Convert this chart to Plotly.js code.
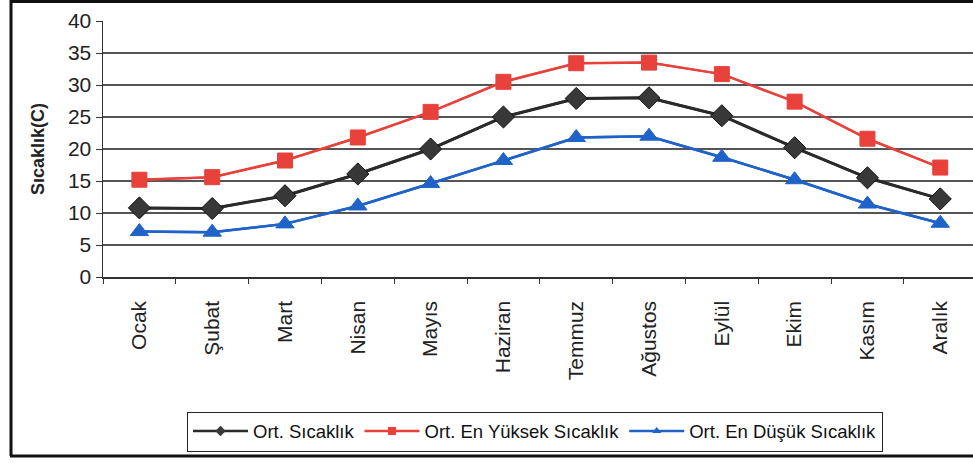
<!DOCTYPE html>
<html>
<head>
<meta charset="utf-8">
<script src="https://cdn.plot.ly/plotly-3.0.1.min.js"></script>
<style>
  html, body { margin: 0; padding: 0; background: #fff; overflow: hidden; }
  #chart { width: 973px; height: 466px; }
</style>
</head>
<body>
<div id="chart"></div>
<script>
const months = ["Ocak", "Şubat", "Mart", "Nisan", "Mayıs", "Haziran", "Temmuz", "Ağustos", "Eylül", "Ekim", "Kasım", "Aralık"];
const ortSicaklik = [10.8, 10.7, 12.7, 16.1, 20.0, 25.0, 27.9, 28.0, 25.2, 20.2, 15.5, 12.2];
const ortEnYuksek = [15.2, 15.6, 18.2, 21.8, 25.8, 30.5, 33.4, 33.5, 31.7, 27.4, 21.6, 17.1];
const ortEnDusuk = [7.1, 7.0, 8.3, 11.1, 14.6, 18.2, 21.8, 22.0, 18.7, 15.2, 11.4, 8.4];
const yTicks = [0, 5, 10, 15, 20, 25, 30, 35, 40];

const seriesNames = ["Ort. Sıcaklık", "Ort. En Yüksek Sıcaklık", "Ort. En Düşük Sıcaklık"];
const seriesData = [ortSicaklik, ortEnYuksek, ortEnDusuk];
const colors = ["#2a2a2a", "#e8413b", "#1f63c8"];
const markerColors = ["#383838", "#e8413b", "#1f63c8"];
const symbols = ["diamond", "square", "triangle-up"];
const sizes = [17, 15, 16];
const widths = [3, 2, 2.5];

const traces = [];
// legend entries (small symbols), drawn underneath the main series
seriesData.forEach((d, i) => {
  traces.push({ x: months, y: d, name: seriesNames[i], type: "scatter", mode: "lines+markers",
    line: { color: colors[i], width: 2.5 },
    marker: { symbol: symbols[i], size: 8, color: markerColors[i] },
    showlegend: true, hoverinfo: "skip" });
});
seriesData.forEach((d, i) => {
  traces.push({ x: months, y: d, name: seriesNames[i], type: "scatter", mode: "lines+markers",
    line: { color: colors[i], width: widths[i] },
    marker: { symbol: symbols[i], size: sizes[i], color: markerColors[i],
              line: { color: i === 0 ? "#111" : markerColors[i], width: 1 } },
    showlegend: false });
});

// outer frame of the figure (paper coordinates relative to the plot area)
const L = 103, T = 21, W = 870, H = 256;
const px = v => (v - L) / W;
const py = v => 1 - (v - T) / H;
const frameLine = { color: "#111", width: 3 };
const shapes = [
  { type: "line", xref: "paper", yref: "paper", x0: px(11), x1: px(11), y0: py(0), y1: py(456), line: frameLine },
  { type: "line", xref: "paper", yref: "paper", x0: px(10), x1: px(990), y0: py(1.5), y1: py(1.5), line: frameLine },
  { type: "line", xref: "paper", yref: "paper", x0: px(10), x1: px(990), y0: py(456), y1: py(456), line: frameLine }
];

const layout = {
  width: 973, height: 466,
  margin: { l: L, r: 0, t: T, b: 466 - T - H },
  paper_bgcolor: "#ffffff", plot_bgcolor: "#ffffff",
  font: { family: "Liberation Sans, Arial, sans-serif", color: "#222" },
  showlegend: true,
  shapes: shapes,
  legend: {
    orientation: "h", x: px(535), xanchor: "center", y: py(431.5), yanchor: "middle",
    bordercolor: "#222", borderwidth: 1, bgcolor: "#fff",
    font: { size: 18.5, family: "Liberation Sans, Arial, sans-serif", color: "#111" },
    itemwidth: 55, tracegroupgap: 0
  },
  xaxis: {
    type: "category", range: [-0.5, 11.45],
    tickson: "boundaries", ticks: "outside", ticklen: 5, tickcolor: "#333",
    ticklabelstandoff: 14,
    tickangle: -90, tickfont: { size: 21, color: "#222" },
    showline: true, linecolor: "#333", linewidth: 1.5,
    showgrid: false, zeroline: false, automargin: false
  },
  yaxis: {
    range: [0, 40], tickvals: yTicks, ticktext: yTicks.map(String),
    ticks: "outside", ticklen: 6, tickcolor: "#333",
    tickfont: { size: 21, color: "#222" },
    showline: true, linecolor: "#333", linewidth: 1.5,
    showgrid: true, gridcolor: "#555", gridwidth: 1.2,
    zeroline: false, automargin: false,
    title: { text: "<b>Sıcaklık(C)</b>", font: { size: 18, color: "#222" }, standoff: 18 }
  }
};

Plotly.newPlot("chart", traces, layout, { displayModeBar: false, staticPlot: true });
</script>
</body>
</html>
